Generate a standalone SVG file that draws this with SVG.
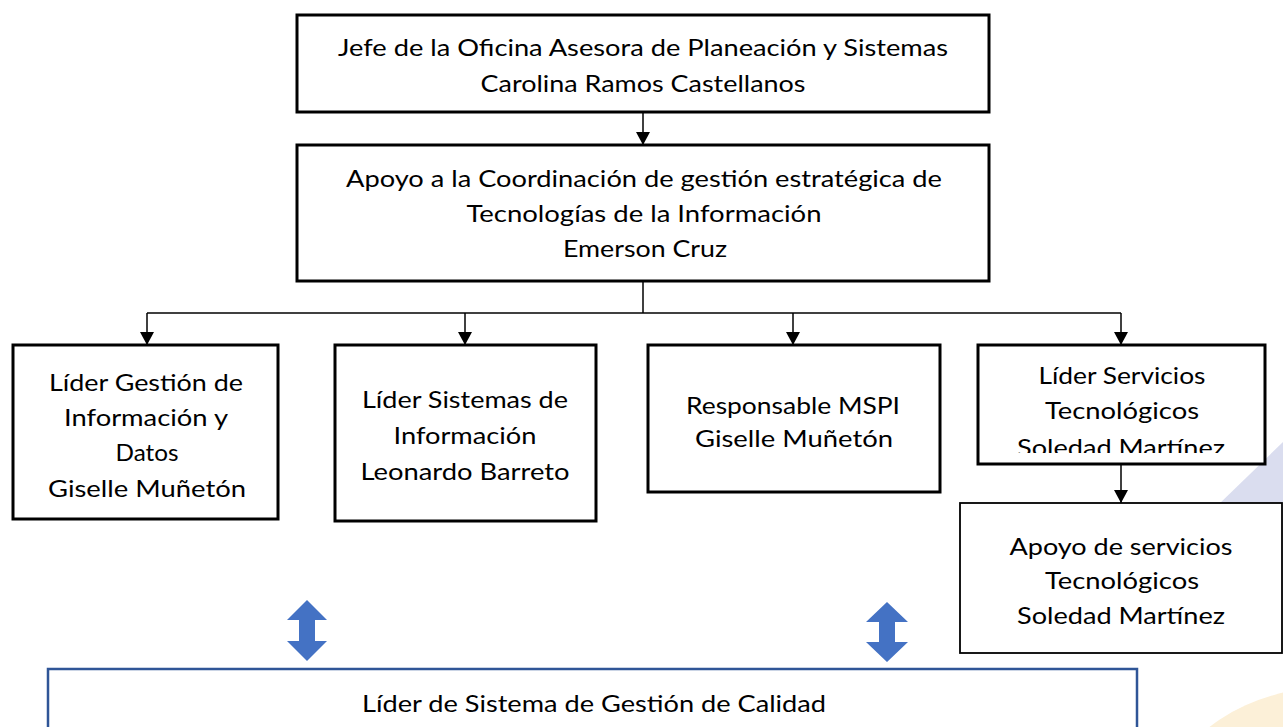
<svg xmlns="http://www.w3.org/2000/svg" width="1283" height="727" viewBox="0 0 1283 727">
<style>
.box{fill:#fff;stroke:#000;stroke-width:3}
.thin{fill:#fff;stroke:#000;stroke-width:1.8}
.t{font-family:Lato,"Liberation Sans",sans-serif;font-size:23px;fill:#000;text-anchor:middle}
.c{stroke:#000;stroke-width:1.5;fill:none}
.dbl{fill:#4472C4}
</style>
<defs>
<marker id="ah" markerUnits="userSpaceOnUse" markerWidth="14" markerHeight="14" refX="13" refY="7" orient="auto">
<path d="M0,0 L13,7 L0,14 Z" fill="#000"/>
</marker>
<clipPath id="clipD"><rect x="978" y="345" width="290" height="108"/></clipPath>
</defs>
<rect width="1283" height="727" fill="#fff"/>
<g id="background">
<polygon points="1283,442 1283,600 1120,600" fill="#DADDEF"/>
<ellipse cx="1340" cy="800" rx="170" ry="114" fill="#FCF0D8"/>
</g>
<g id="connectors">
<line class="c" x1="643" y1="112" x2="643" y2="145" marker-end="url(#ah)"/>
<line class="c" x1="643" y1="281" x2="643" y2="313"/>
<line class="c" x1="147" y1="313" x2="1121" y2="313"/>
<line class="c" x1="147" y1="313" x2="147" y2="345" marker-end="url(#ah)"/>
<line class="c" x1="465" y1="313" x2="465" y2="345" marker-end="url(#ah)"/>
<line class="c" x1="793" y1="313" x2="793" y2="345" marker-end="url(#ah)"/>
<line class="c" x1="1121" y1="313" x2="1121" y2="345" marker-end="url(#ah)"/>
<line class="c" x1="1121" y1="464" x2="1121" y2="503" marker-end="url(#ah)"/>
<polygon class="dbl" points="307,600 327,620 315,620 315,641 327,641 307,661 287,641 299,641 299,620 287,620"/>
<polygon class="dbl" points="887,602 908,622 895,622 895,642 908,642 887,662 866,642 879,642 879,622 866,622"/>
</g>
<g id="jefe">
<rect class="box" x="297" y="15" width="692" height="97"/>
<text class="t" x="643" y="56" textLength="610" lengthAdjust="spacingAndGlyphs">Jefe de la Oficina Asesora de Planeación y Sistemas</text>
<text class="t" x="643" y="92" textLength="325" lengthAdjust="spacingAndGlyphs">Carolina Ramos Castellanos</text>
</g>
<g id="apoyo-coordinacion">
<rect class="box" x="297" y="145" width="692" height="136"/>
<text class="t" x="644" y="187" textLength="596" lengthAdjust="spacingAndGlyphs">Apoyo a la Coordinación de gestión estratégica de</text>
<text class="t" x="644" y="222" textLength="355" lengthAdjust="spacingAndGlyphs">Tecnologías de la Información</text>
<text class="t" x="645" y="257" textLength="164" lengthAdjust="spacingAndGlyphs">Emerson Cruz</text>
</g>
<g id="lider-gestion-info">
<rect class="box" x="13" y="345" width="265" height="174"/>
<text class="t" x="146" y="391" textLength="194" lengthAdjust="spacingAndGlyphs">Líder Gestión de</text>
<text class="t" x="146" y="426" textLength="164" lengthAdjust="spacingAndGlyphs">Información y</text>
<text class="t" x="147" y="461" textLength="63" lengthAdjust="spacingAndGlyphs">Datos</text>
<text class="t" x="147" y="497" textLength="198" lengthAdjust="spacingAndGlyphs">Giselle Muñetón</text>
</g>
<g id="lider-sistemas-info">
<rect class="box" x="335" y="345" width="261" height="176"/>
<text class="t" x="465" y="408" textLength="206" lengthAdjust="spacingAndGlyphs">Líder Sistemas de</text>
<text class="t" x="465" y="444" textLength="143" lengthAdjust="spacingAndGlyphs">Información</text>
<text class="t" x="465" y="480" textLength="209" lengthAdjust="spacingAndGlyphs">Leonardo Barreto</text>
</g>
<g id="responsable-mspi">
<rect class="box" x="648" y="345" width="292" height="147"/>
<text class="t" x="793" y="414" textLength="214" lengthAdjust="spacingAndGlyphs">Responsable MSPI</text>
<text class="t" x="794" y="447" textLength="198" lengthAdjust="spacingAndGlyphs">Giselle Muñetón</text>
</g>
<g id="lider-servicios">
<rect class="box" x="978" y="345" width="287" height="119"/>
<g clip-path="url(#clipD)">
<text class="t" x="1122" y="384" textLength="167" lengthAdjust="spacingAndGlyphs">Líder Servicios</text>
<text class="t" x="1122" y="419" textLength="154" lengthAdjust="spacingAndGlyphs">Tecnológicos</text>
<text class="t" x="1121" y="456" textLength="208" lengthAdjust="spacingAndGlyphs">Soledad Martínez</text>
</g>
</g>
<g id="apoyo-servicios">
<rect class="thin" x="960" y="503" width="322" height="150"/>
<text class="t" x="1121" y="555" textLength="223" lengthAdjust="spacingAndGlyphs">Apoyo de servicios</text>
<text class="t" x="1122" y="589" textLength="154" lengthAdjust="spacingAndGlyphs">Tecnológicos</text>
<text class="t" x="1121" y="624" textLength="208" lengthAdjust="spacingAndGlyphs">Soledad Martínez</text>
</g>
<g id="lider-calidad">
<rect x="48" y="669" width="1089" height="80" fill="#fff" stroke="#2F5597" stroke-width="2.5"/>
<text class="t" x="594" y="712" textLength="464" lengthAdjust="spacingAndGlyphs">Líder de Sistema de Gestión de Calidad</text>
</g>
</svg>
